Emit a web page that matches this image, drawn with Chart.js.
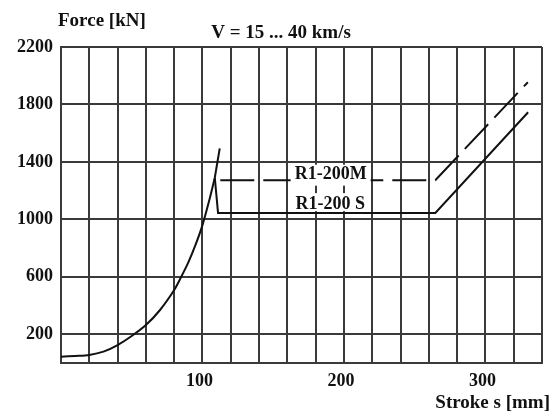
<!DOCTYPE html>
<html>
<head>
<meta charset="utf-8">
<script src="https://cdn.jsdelivr.net/npm/chart.js@4/dist/chart.umd.min.js"></script>
<style>
  html, body { margin: 0; padding: 0; background: #fff; }
  #wrap { width: 550px; height: 412px; }
</style>
</head>
<body>
<div id="wrap"><canvas id="forceChart" width="550" height="412"></canvas></div>
<script>
// ---- Data ----
const baseStroke = [0, 10, 20, 30, 40, 50, 60, 70, 80, 85, 90, 95, 100, 105, 108.7];
const baseForce  = [44, 49, 56, 79, 125, 188, 264, 369, 508, 600, 700, 820, 960, 1140, 1290];

// R1-200 S: drop after the peak, flat, then rising
const sStroke = [108.7, 111, 264.6, 330.2];
const sForce  = [1290, 1045, 1045, 1746];

// R1-200M: short spike, then dashed flat + rising part
const mStroke = [108.7, 112.2, 112.2, 112.6, 264.6, 330];
const mForce  = [1290, 1494, null, 1273, 1273, 1955];

const xTicks = [0, 20, 40, 60, 80, 100, 120, 140, 160, 180, 200, 220, 240, 260, 280, 300, 320, 340];
const xLabels = [100, 200, 300];
const yTicks = [200, 600, 1000, 1400, 1800, 2200];

const COLORS = {
  ink:  '#111111',
  grid: '#3a3a3a'
};
const FAMILY = "'Liberation Serif', 'Times New Roman', serif";
const FONT = "bold 19px " + FAMILY;
const LABEL_FONT = "bold 18px " + FAMILY;

const toPoints = (xs, ys) => xs.map((x, i) => ({ x: x, y: ys[i] }));

// texts drawn on top of the chart
const textPlugin = {
  id: 'texts',
  afterDraw(chart) {
    const c = chart.ctx;
    const xs = chart.scales.x, ys = chart.scales.y;
    c.save();
    c.font = FONT;
    c.fillStyle = COLORS.ink;
    c.textBaseline = 'middle';

    c.textAlign = 'left';
    c.fillText('Force [kN]', 58, 21);
    c.textAlign = 'center';
    c.fillText('V = 15 ... 40 km/s', 281, 33);
    c.textAlign = 'right';
    c.fillText('Stroke s [mm]', 550, 403);

    // curve labels on white boxes
    c.font = LABEL_FONT;
    const labels = [
      { text: 'R1-200M', s: 190.6, f: 1318, top: -9, bottom: 12 },
      { text: 'R1-200 S', s: 190.3, f: 1113, top: -10, bottom: 8 }
    ];
    c.textAlign = 'center';
    labels.forEach(l => {
      const px = xs.getPixelForValue(l.s);
      const py = ys.getPixelForValue(l.f);
      const w = c.measureText(l.text).width + 8;
      c.fillStyle = '#fff';
      c.fillRect(px - w / 2, py + l.top, w, l.bottom - l.top);
      c.fillStyle = COLORS.ink;
      c.fillText(l.text, px, py + 1);
    });
    c.restore();
  }
};

const ctx = document.getElementById('forceChart');

new Chart(ctx, {
  type: 'line',
  data: {
    datasets: [
      {
        label: 'base',
        data: toPoints(baseStroke, baseForce),
        borderColor: COLORS.ink,
        borderWidth: 2,
        pointRadius: 0,
        tension: 0.3
      },
      {
        label: 'R1-200 S',
        data: toPoints(sStroke, sForce),
        borderColor: COLORS.ink,
        borderWidth: 2,
        pointRadius: 0
      },
      {
        label: 'R1-200M',
        data: toPoints(mStroke, mForce),
        borderColor: COLORS.ink,
        borderWidth: 2,
        pointRadius: 0,
        spanGaps: false,
        segment: {
          borderDash: c => c.p0DataIndex >= 3 ? [34, 9] : undefined
        }
      }
    ]
  },
  options: {
    responsive: false,
    animation: false,
    layout: { padding: { top: 47, right: 2, left: 0, bottom: 0 } },
    plugins: {
      legend: { display: false },
      tooltip: { enabled: false }
    },
    scales: {
      x: {
        type: 'linear',
        min: 0,
        max: 340,
        afterBuildTicks: axis => { axis.ticks = xTicks.map(v => ({ value: v })); },
        afterFit: axis => { axis.height = 49; },
        grid: { color: COLORS.grid, lineWidth: 2, drawTicks: false },
        border: { color: COLORS.grid, width: 2 },
        ticks: {
          autoSkip: false,
          maxRotation: 0,
          padding: 8,
          labelOffset: -3,
          color: COLORS.ink,
          font: { family: FAMILY, size: 18, weight: 'bold' },
          callback: v => xLabels.includes(v) ? String(v) : ''
        }
      },
      y: {
        min: 0,
        max: 2200,
        afterBuildTicks: axis => { axis.ticks = yTicks.map(v => ({ value: v })); },
        afterFit: axis => { axis.width = 61; },
        grid: { color: COLORS.grid, lineWidth: 2, drawTicks: false },
        border: { color: COLORS.grid, width: 2 },
        ticks: {
          padding: 8,
          color: COLORS.ink,
          font: { family: FAMILY, size: 18, weight: 'bold' },
          callback: v => String(v)
        }
      }
    }
  },
  plugins: [textPlugin]
});
</script>
</body>
</html>
